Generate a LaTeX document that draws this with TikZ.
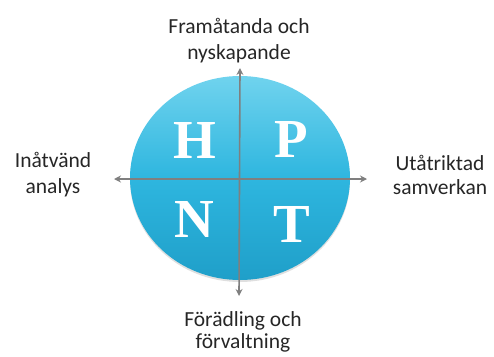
\documentclass[tikz,border=0pt]{standalone}
\usepackage{fontspec}
\setmainfont{Carlito}
\newfontfamily\letterfont{Liberation Serif}
\usetikzlibrary{arrows.meta,shadows}
\definecolor{topc}{HTML}{70D3EE}
\definecolor{midc}{HTML}{2EB6DF}
\definecolor{botc}{HTML}{1F9FC9}
\definecolor{axisc}{HTML}{7F7F7F}
\definecolor{txtc}{HTML}{262626}
\tikzset{
  letter/.style={anchor=base, text=white, font=\letterfont\bfseries\fontsize{55}{55}\selectfont, inner sep=0pt},
  lbl/.style={anchor=base, align=center, text=txtc, inner sep=0pt},
  axisarrow/.style={draw=axisc, line width=1.6pt, {Stealth[length=7pt,width=7pt]}-{Stealth[length=7pt,width=7pt]}}
}
\begin{document}
\begin{tikzpicture}[x=1pt,y=-1pt]
\useasboundingbox (0,0) rectangle (494,356);
% disc
\path[top color=topc, bottom color=botc, middle color=midc,
      drop shadow={opacity=0.25, shadow xshift=0pt, shadow yshift=-2pt}]
  (240,178) ellipse [x radius=110, y radius=102];
% letters
\node[letter] (H) at (195,158) {H};
\node[letter] (P) at (291,157) {P};
\node[letter] (N) at (194,237) {N};
\node[letter] (T) at (292,242) {T};
% axes
\coordinate (l) at (114,179);
\coordinate (r) at (367,179);
\coordinate (t) at (240,68);
\coordinate (b) at (239,296);
\draw[axisarrow] (l) -- (r);
\draw[axisarrow] (t) -- (b);
% labels (base anchor = last line)
\node[lbl, font=\fontsize{21.5}{26}\selectfont] (top) at (239,59) {Framåtanda och\\nyskapande};
\node[lbl, font=\fontsize{21.5}{26}\selectfont] (left) at (53,193) {Inåtvänd\\analys};
\node[lbl, font=\fontsize{21.5}{24}\selectfont] (right) at (440,194) {Utåtriktad\\samverkan};
\node[lbl, font=\fontsize{21.5}{22}\selectfont] (bottom) at (243,348) {Förädling och\\förvaltning};
\end{tikzpicture}
\end{document}
